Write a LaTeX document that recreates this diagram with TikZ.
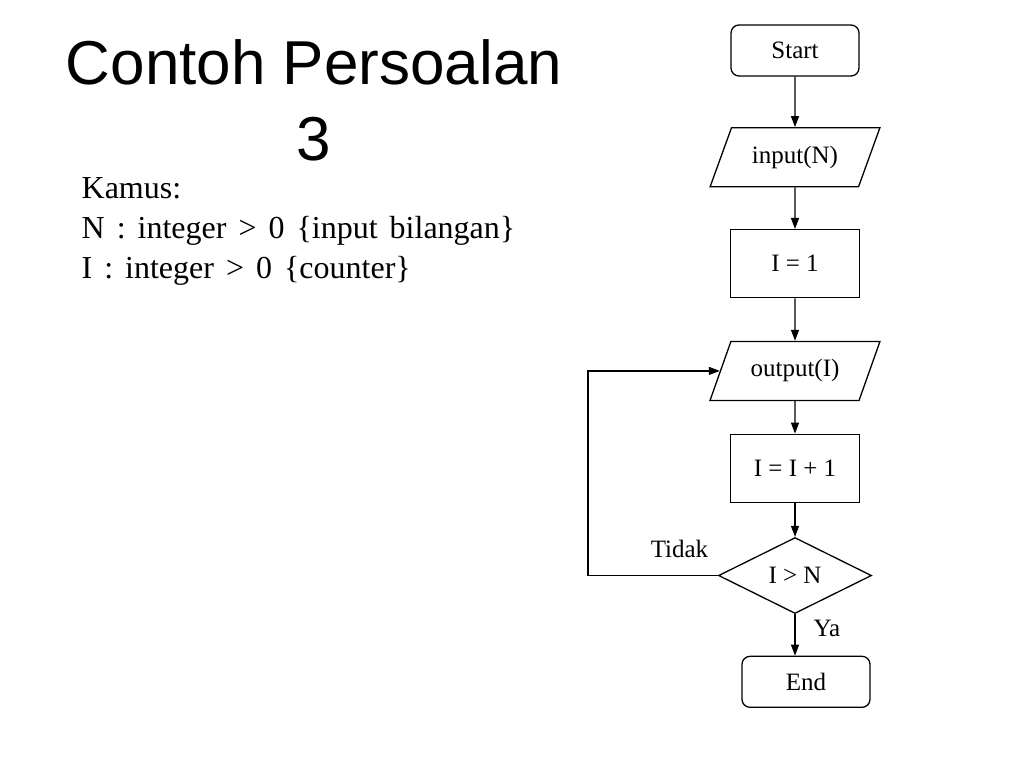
\documentclass[tikz,border=0pt]{standalone}
\usepackage{fontspec}
\setmainfont{Liberation Serif}
\newfontfamily\titlefont{Liberation Sans}
\usetikzlibrary{positioning,shapes.geometric,arrows.meta}
\newcommand{\chartFont}{\fontsize{25}{29}\selectfont}
\newcommand{\kamusFont}{\fontsize{32}{40}\selectfont\spaceskip=12pt plus 2pt minus 1pt\relax}

\begin{document}
\begin{tikzpicture}[x=1pt, y=-1pt, line width=1.3pt,
			>={Triangle[length=11pt,width=8pt]},
			terminal/.style={rectangle, draw, rounded corners=8pt, minimum width=128pt, minimum height=51pt, font=\chartFont},
			process/.style={rectangle, draw, minimum width=129pt, minimum height=68pt, font=\chartFont},
			io/.style={trapezium, trapezium left angle=62, trapezium right angle=118, trapezium stretches=true, draw, minimum width=170pt, minimum height=59pt, font=\chartFont},
			decision/.style={diamond, aspect=2, draw, inner sep=0pt, minimum width=153pt, minimum height=76pt, font=\chartFont},
			answer/.style={inner sep=0pt, font=\chartFont}
		]
		\useasboundingbox (0,0) rectangle (1024,768);
		% base of a multi-line node is its last line
		\node[anchor=base, align=center, font=\titlefont\fontsize{62}{76}\selectfont] (title) at (314,160) {Contoh Persoalan\\3};
		\node[anchor=base west, align=left, inner sep=0pt, font=\kamusFont] (kamus) at (81,278) {Kamus:\\N : integer > 0 \{input bilangan\}\\I : integer > 0 \{counter\}};

		\node[terminal] (start) at (795,50.5) {Start};
		\node[io] (inp) [below=50.5pt of start] {input(N)};
		\node[process] (init) [below=41.5pt of inp] {I = 1};
		\node[io] (outp) [below=42.5pt of init] {output(I)};
		\node[process] (incr) [below=32.5pt of outp] {I = I + 1};
		\node[decision] (cond) [below=34pt of incr] {I > N};
		\node[terminal] (stop) [below=41.5pt of cond, xshift=11pt] {End};
		%\node[terminal] (stop) [below=43pt of cond] {End};
		\node[answer] (no) [above left=17pt and 9pt of cond.west] {Tidak};
		\node[answer] (yes) [below right=5pt and 18pt of cond.south] {Ya};

		\draw[->]
		(start) edge (inp)
		(inp) edge (init)
		(init) edge (outp)
		(outp) edge (incr)
		(incr) edge (cond)
		;
		\draw[->] (cond) -- (cond.south |- stop.north);
		\draw[->] (cond.west) -- ++(-130pt,0) |- (outp);
		\end{tikzpicture}
\end{document}
